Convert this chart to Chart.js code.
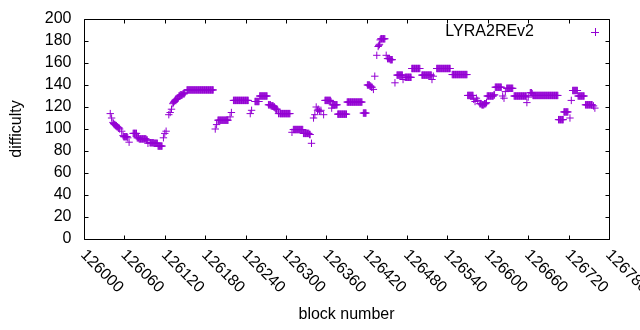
<!DOCTYPE html>
<html>
<head>
<meta charset="utf-8">
<script src="https://cdn.jsdelivr.net/npm/chart.js@4.4.0/dist/chart.umd.js"></script>
<style>
  html, body { margin: 0; padding: 0; background: #fff; }
  canvas { display: block; }
</style>
</head>
<body>
<canvas id="diffChart" width="640" height="330"></canvas>
<script>
// dados: cada trecho começa num bloco e segue bloco a bloco
const seriesName = 'LYRA2REv2';
const xTicks = [126000, 126060, 126120, 126180, 126240, 126300, 126360, 126420, 126480, 126540, 126600, 126660, 126720, 126780];
const yTicks = [0, 20, 40, 60, 80, 100, 120, 140, 160, 180, 200];

const runStarts = [
    126039, 126041, 126043, 126056, 126058, 126067, 126073, 126079, 126095, 126098,
    126110, 126118, 126120, 126122, 126126, 126128, 126130, 126132, 126141, 126153,
    126195, 126197, 126199, 126217, 126219, 126222, 126247, 126249, 126254, 126261,
    126274, 126289, 126291, 126309, 126311, 126326, 126338, 126341, 126343, 126345,
    126347, 126350, 126352, 126356, 126358, 126368, 126369, 126377, 126391, 126415,
    126421, 126430, 126432, 126435, 126437, 126440, 126449, 126451, 126462, 126465,
    126474, 126477, 126487, 126502, 126517, 126519, 126524, 126547, 126570, 126579,
    126581, 126583, 126585, 126588, 126599, 126611, 126622, 126624, 126626, 126628,
    126639, 126658, 126660, 126663, 126667, 126705, 126713, 126722, 126724, 126726,
    126734, 126745, 126757, 126759
];
const runValues = [
    [114], [110],
    [106, 105, 104, 104, 103, 103, 102, 102, 101, 101, 100],
    [98],
    [94, 93, 93, 93, 93, 93, 93, 92],
    [88],
    [96, 96, 96, 96, 96, 96],
    [92, 92, 92, 91, 91, 91, 91, 91, 91, 91, 91, 91, 91, 91, 90, 90],
    [87],
    [87.5, 87.5, 87.5, 87.5, 87.5, 87.5, 87, 87, 87, 87, 87, 87],
    [84.5, 84.5, 84.5, 84.5, 84.5, 84.5, 84.5],
    [92], [96], [98], [113], [115], [118],
    [123, 124, 125, 126, 126.5, 127, 127, 127.5, 128],
    [130, 130, 131, 131, 131, 131, 132, 132, 132, 133],
    [135.5, 135.5, 135.5, 135.5, 135.5, 135.5, 135.5, 135.5, 135.5, 135.5, 135.5, 135.5, 135.5, 135.5, 135.5, 135.5, 135.5, 135.5, 135.5, 135.5,
     135.5, 135.5, 135.5, 135.5, 135.5, 135.5, 135.5, 135.5, 135.5, 135.5, 135.5, 135.5, 135.5, 135.5, 135.5, 135.5, 135.5, 135.5, 135.5, 135.5],
    [100], [104],
    [108, 108, 108, 108, 108, 108, 108, 108, 108, 108, 108, 108, 108, 108, 108, 108],
    [111], [115],
    [126, 126, 126, 126, 126, 126, 126, 126, 126, 126, 126, 126, 126, 126, 126, 126, 126, 126, 126, 126, 126, 126, 126],
    [114], [117],
    [125, 125, 125, 125, 125, 125, 125],
    [130, 130, 130, 130, 130, 130, 130, 130, 130, 130, 130, 130],
    [122, 122, 122, 122, 121, 121, 121, 121, 120, 120, 119, 118, 118, 118],
    [114],
    [114, 114, 114, 114, 114, 114, 114, 114, 114, 114, 114, 114, 114, 114, 114, 114],
    [97],
    [99.5, 99.5, 99.5, 99.5, 99.5, 99.5, 99.5, 99.5, 99.5, 99.5, 99.5, 99.5, 99.5, 99.5, 99.5],
    [96, 96, 96, 96, 96, 96, 96, 96, 96, 95, 95],
    [87], [110], [113], [120],
    [117, 118],
    [116], [117], [113],
    [126, 126, 126, 126, 126, 126, 126, 126, 126, 125],
    [119],
    [122, 122, 122, 122, 122, 122, 122, 122],
    [113.5, 113.5, 113.5, 113.5, 113.5, 113.5, 113.5, 113.5, 113.5, 113.5, 113.5, 113.5, 113.5, 113.5],
    [124.5, 124.5, 124.5, 124.5, 124.5, 124.5, 124.5, 124.5, 124.5, 124.5, 124.5, 124.5, 124.5, 124.5, 124.5, 124.5, 124.5, 124.5, 124.5, 124.5, 124.5, 124.5, 124.5],
    [114.5, 114.5, 114.5, 114.5, 114.5],
    [140, 140, 140, 140, 139, 139, 138, 138],
    [136], [148], [167],
    [175, 176, 177],
    [181, 182, 182, 182, 182, 182, 182, 182],
    [167],
    [164, 164, 164, 164, 163, 163, 163, 163],
    [142],
    [149, 149, 149, 149, 149, 149, 149, 149, 149],
    [145],
    [147, 147, 147, 147, 147, 147, 147, 147, 147, 147],
    [155, 155, 155, 155, 155, 155, 155, 155, 155, 155, 155, 155, 155],
    [149, 149, 149, 149, 149, 149, 149, 149, 149, 149, 149, 149, 149, 149, 149],
    [145], [148],
    [155, 155, 155, 155, 155, 155, 155, 155, 155, 155, 155, 155, 155, 155, 155, 155, 155, 155, 155, 155, 155],
    [149.5, 149.5, 149.5, 149.5, 149.5, 149.5, 149.5, 149.5, 149.5, 149.5, 149.5, 149.5, 149.5, 149.5, 149.5, 149.5, 149.5, 149.5, 149.5, 149.5, 149.5, 149.5, 149.5],
    [130.5, 130.5, 130.5, 130.5, 130.5, 130.5, 130.5, 130.5, 130.5],
    [127], [125], [128], [126],
    [123, 123, 123, 122, 122, 122, 122, 123, 123, 123, 124],
    [130, 130, 130, 130, 130, 130, 130, 130, 130, 130, 131, 131],
    [138, 138, 138, 138, 138, 138, 138, 138, 138, 138],
    [130], [128], [134],
    [137, 137, 137, 137, 137, 137, 137, 137, 137, 137],
    [130, 130, 130, 130, 130, 130, 130, 130, 130, 130, 130, 130, 130, 130, 130, 130, 130, 130, 130],
    [124], [129],
    [133, 133, 133, 132],
    [130.5, 130.5, 130.5, 130.5, 130.5, 130.5, 130.5, 130.5, 130.5, 130.5, 130.5, 130.5, 130.5, 130.5, 130.5, 130.5, 130.5, 130.5, 130.5,
     130.5, 130.5, 130.5, 130.5, 130.5, 130.5, 130.5, 130.5, 130.5, 130.5, 130.5, 130.5, 130.5, 130.5, 130.5, 130.5, 130.5, 130.5, 130.5],
    [108.5, 108.5, 108.5, 108.5, 108.5, 108.5, 108.5, 108.5],
    [115.5, 115.5, 115.5, 115.5, 115.5, 115.5, 115.5],
    [110], [126],
    [135, 135, 135, 135, 135, 135, 135, 135],
    [130, 130, 130, 130, 130, 130, 130, 130, 130, 130],
    [122, 122, 122, 122, 122, 122, 122, 122, 122, 122, 122],
    [121], [119]
];

const COLOR = '#9400d3';
const FONT = '16px "Liberation Sans", Arial, sans-serif';

// monta os pontos {x: bloco, y: dificuldade}
const points = [];
runStarts.forEach((start, i) => {
    runValues[i].forEach((v, j) => points.push({ x: start + j, y: v }));
});

// moldura estilo gnuplot: borda, ticks para dentro, rótulos
const gnuplotFrame = {
    id: 'gnuplotFrame',
    afterDraw(chart) {
        const ctx = chart.ctx;
        const a = chart.chartArea;
        const xs = chart.scales.x;
        const ys = chart.scales.y;
        const L = Math.round(a.left) + 0.5, R = Math.round(a.right) + 0.5;
        const T = Math.round(a.top) + 0.5, B = Math.round(a.bottom) + 0.5;
        const tick = 4;
        ctx.save();
        ctx.strokeStyle = '#000';
        ctx.lineWidth = 1;
        ctx.beginPath();
        ctx.rect(L, T, R - L, B - T);
        xTicks.forEach(v => {
            const px = Math.round(xs.getPixelForValue(v)) + 0.5;
            ctx.moveTo(px, B); ctx.lineTo(px, B - tick);
            ctx.moveTo(px, T); ctx.lineTo(px, T + tick);
        });
        yTicks.forEach(v => {
            const py = Math.round(ys.getPixelForValue(v)) + 0.5;
            ctx.moveTo(L, py); ctx.lineTo(L + tick, py);
            ctx.moveTo(R, py); ctx.lineTo(R - tick, py);
        });
        ctx.stroke();

        ctx.fillStyle = '#000';
        ctx.font = FONT;
        // rótulos do eixo y
        ctx.textAlign = 'right';
        ctx.textBaseline = 'middle';
        yTicks.forEach(v => ctx.fillText(String(v), L - 13, ys.getPixelForValue(v)));
        // rótulos do eixo x girados 45 graus
        ctx.textAlign = 'left';
        xTicks.forEach(v => {
            const px = xs.getPixelForValue(v);
            ctx.save();
            ctx.translate(px - 1, B + 13);
            ctx.rotate(Math.PI / 4);
            ctx.fillText(String(v), 0, 0);
            ctx.restore();
        });
        // títulos
        ctx.textAlign = 'center';
        ctx.fillText('block number', (a.left + a.right) / 2, 315);
        ctx.save();
        ctx.translate(17, (a.top + a.bottom) / 2);
        ctx.rotate(-Math.PI / 2);
        ctx.fillText('difficulty', 0, 0);
        ctx.restore();
        // legenda
        ctx.textAlign = 'right';
        ctx.fillText(seriesName, 534, 32);
        ctx.strokeStyle = COLOR;
        ctx.beginPath();
        ctx.moveTo(591, 32.5); ctx.lineTo(599, 32.5);
        ctx.moveTo(595.5, 28); ctx.lineTo(595.5, 36);
        ctx.stroke();
        ctx.restore();
    }
};

new Chart(document.getElementById('diffChart'), {
    type: 'scatter',
    data: {
        datasets: [{
            label: seriesName,
            data: points,
            pointStyle: 'cross',
            pointRadius: 3.7,
            borderColor: COLOR,
            backgroundColor: COLOR,
            borderWidth: 1
        }]
    },
    options: {
        responsive: false,
        animation: false,
        devicePixelRatio: 1,
        layout: { padding: { left: 84, top: 19, right: 31, bottom: 91 } },
        plugins: {
            legend: { display: false },
            tooltip: { enabled: false }
        },
        scales: {
            x: { type: 'linear', display: false, min: 126000, max: 126780 },
            y: { type: 'linear', display: false, min: 0, max: 200 }
        }
    },
    plugins: [gnuplotFrame]
});
</script>
</body>
</html>
